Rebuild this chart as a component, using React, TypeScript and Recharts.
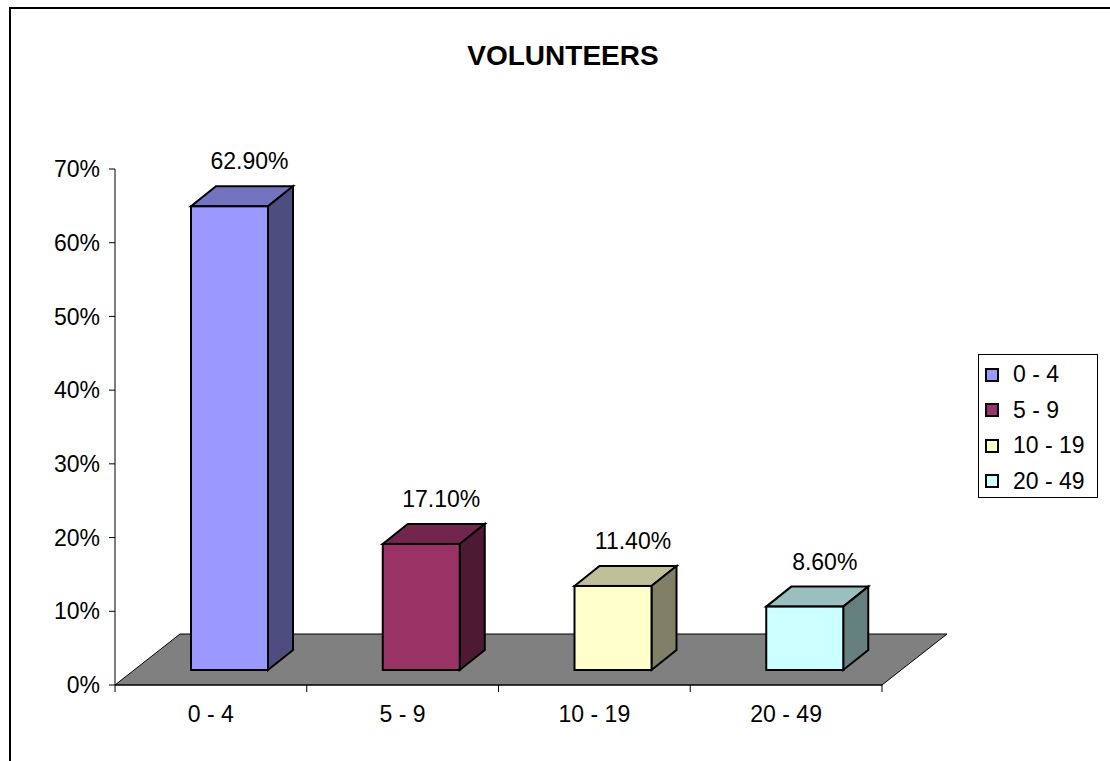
import { Bar, BarChart, Cell, LabelList, Legend, ReferenceArea, XAxis, YAxis } from "recharts";

const categories = ["0 - 4", "5 - 9", "10 - 19", "20 - 49"];
const shares = [0.629, 0.171, 0.114, 0.086];
const shareLabels = ["62.90%", "17.10%", "11.40%", "8.60%"];
const yTicks = [0, 0.1, 0.2, 0.3, 0.4, 0.5, 0.6, 0.7];

const frontColors = ["#9999FF", "#993366", "#FFFFCC", "#CCFFFF"];
const sideColors = ["#4D4D80", "#4D1A33", "#808066", "#668080"];
const topColors = ["#7373BF", "#73264D", "#BFBF99", "#99BFBF"];

const data = categories.map((name, i) => ({ name, share: shares[i], label: shareLabels[i] }));

const FONT = '"Liberation Sans", Arial, sans-serif';
const TEXT_SIZE = 23;
// 3D depth offsets (px)
const BAR_DX = 19;
const BAR_DY = -15;
const SIDE_DX = 25;
const SIDE_DY = -20;
const FLOOR_DX = 65;
const FLOOR_DY = -51;
const HALF_BAND = 767 / categories.length / 2;

const Box3D = (props: any) => {
  const { x, y, width, height, index } = props;
  const fx = x + BAR_DX;
  const fy = y + BAR_DY;
  const r = fx + width;
  const b = fy + height;
  return (
    <g stroke="#000" strokeWidth={2}>
      <polygon
        points={`${fx},${fy} ${fx + SIDE_DX},${fy + SIDE_DY} ${r + SIDE_DX},${fy + SIDE_DY} ${r},${fy}`}
        fill={topColors[index]}
      />
      <polygon
        points={`${r},${fy} ${r + SIDE_DX},${fy + SIDE_DY} ${r + SIDE_DX},${b + SIDE_DY} ${r},${b}`}
        fill={sideColors[index]}
      />
      <rect x={fx} y={fy} width={width} height={height} fill={frontColors[index]} />
    </g>
  );
};

const Floor = (props: any) => {
  const { x, y, width, height } = props;
  const base = y + height;
  return (
    <polygon
      points={`${x},${base} ${x + width},${base} ${x + width + FLOOR_DX},${base + FLOOR_DY} ${x + FLOOR_DX},${base + FLOOR_DY}`}
      fill="#808080"
      stroke="#000"
      strokeWidth={1}
    />
  );
};

const ValueLabel = (props: any) => {
  const { x, y, width, value } = props;
  return (
    <text
      x={x + width / 2 + BAR_DX + 20}
      y={y - 52}
      textAnchor="middle"
      fontFamily={FONT}
      fontSize={TEXT_SIZE}
      fill="#000"
    >
      {value}
    </text>
  );
};

const CategoryTick = (props: any) => {
  const { x, y, payload, index } = props;
  return (
    <g>
      <line x1={x - HALF_BAND} y1={y} x2={x - HALF_BAND} y2={y + 7} stroke="#000" />
      {index === categories.length - 1 && (
        <line x1={x + HALF_BAND} y1={y} x2={x + HALF_BAND} y2={y + 7} stroke="#000" />
      )}
      <text x={x} y={y + 37} textAnchor="middle" fontFamily={FONT} fontSize={TEXT_SIZE} fill="#000">
        {payload.value}
      </text>
    </g>
  );
};

const LegendBox = () => (
  <div
    style={{
      width: 120,
      height: 144,
      boxSizing: "border-box",
      border: "1px solid #000",
      background: "#fff",
      paddingTop: 2,
      fontFamily: FONT,
      fontSize: TEXT_SIZE,
      color: "#000",
    }}
  >
    {categories.map((c, i) => (
      <div key={c} style={{ display: "flex", alignItems: "center", height: 35.5 }}>
        <span
          style={{
            display: "inline-block",
            width: 10,
            height: 10,
            marginLeft: 6,
            marginRight: 14,
            border: "2px solid #000",
            background: frontColors[i],
          }}
        />
        <span>{c}</span>
      </div>
    ))}
  </div>
);

export default function App() {
  return (
    <div style={{ position: "relative", width: 1110, height: 761, overflow: "hidden", fontFamily: FONT }}>
      <style>{"body{margin:0;overflow:hidden}"}</style>
      <div
        style={{
          position: "absolute",
          left: 9,
          top: 7,
          width: 1110,
          height: 761,
          borderTop: "2px solid #000",
          borderLeft: "2px solid #000",
        }}
      />
      <div
        style={{
          position: "absolute",
          left: 413,
          top: 40,
          width: 300,
          textAlign: "center",
          fontWeight: "bold",
          fontSize: 28,
        }}
      >
        VOLUNTEERS
      </div>
      <div style={{ position: "absolute", left: 0, top: 0 }}>
        <BarChart
          width={1110}
          height={761}
          data={data}
          margin={{ top: 169, right: 228, bottom: 36, left: 0 }}
        >
          <ReferenceArea y1={0} y2={0.05} ifOverflow="visible" shape={<Floor />} />
          <XAxis
            dataKey="name"
            height={40}
            interval={0}
            tickLine={false}
            tickSize={0}
            tickMargin={0}
            axisLine={{ stroke: "#000" }}
            tick={<CategoryTick />}
          />
          <YAxis
            width={115}
            domain={[0, 0.7]}
            ticks={yTicks}
            interval={0}
            tickFormatter={(v: number) => `${Math.round(v * 100)}%`}
            tickSize={6}
            tickMargin={9}
            axisLine={{ stroke: "#000" }}
            tickLine={{ stroke: "#000" }}
            tick={{ fill: "#000", fontSize: TEXT_SIZE, fontFamily: FONT }}
          />
          <Legend
            layout="vertical"
            align="center"
            verticalAlign="middle"
            wrapperStyle={{ left: 978, top: 354, width: 120, height: 144 }}
            content={<LegendBox />}
          />
          <Bar dataKey="share" barSize={77} shape={<Box3D />} isAnimationActive={false}>
            {data.map((d, i) => (
              <Cell key={d.name} fill={frontColors[i]} />
            ))}
            <LabelList dataKey="label" content={<ValueLabel />} />
          </Bar>
        </BarChart>
      </div>
    </div>
  );
}
